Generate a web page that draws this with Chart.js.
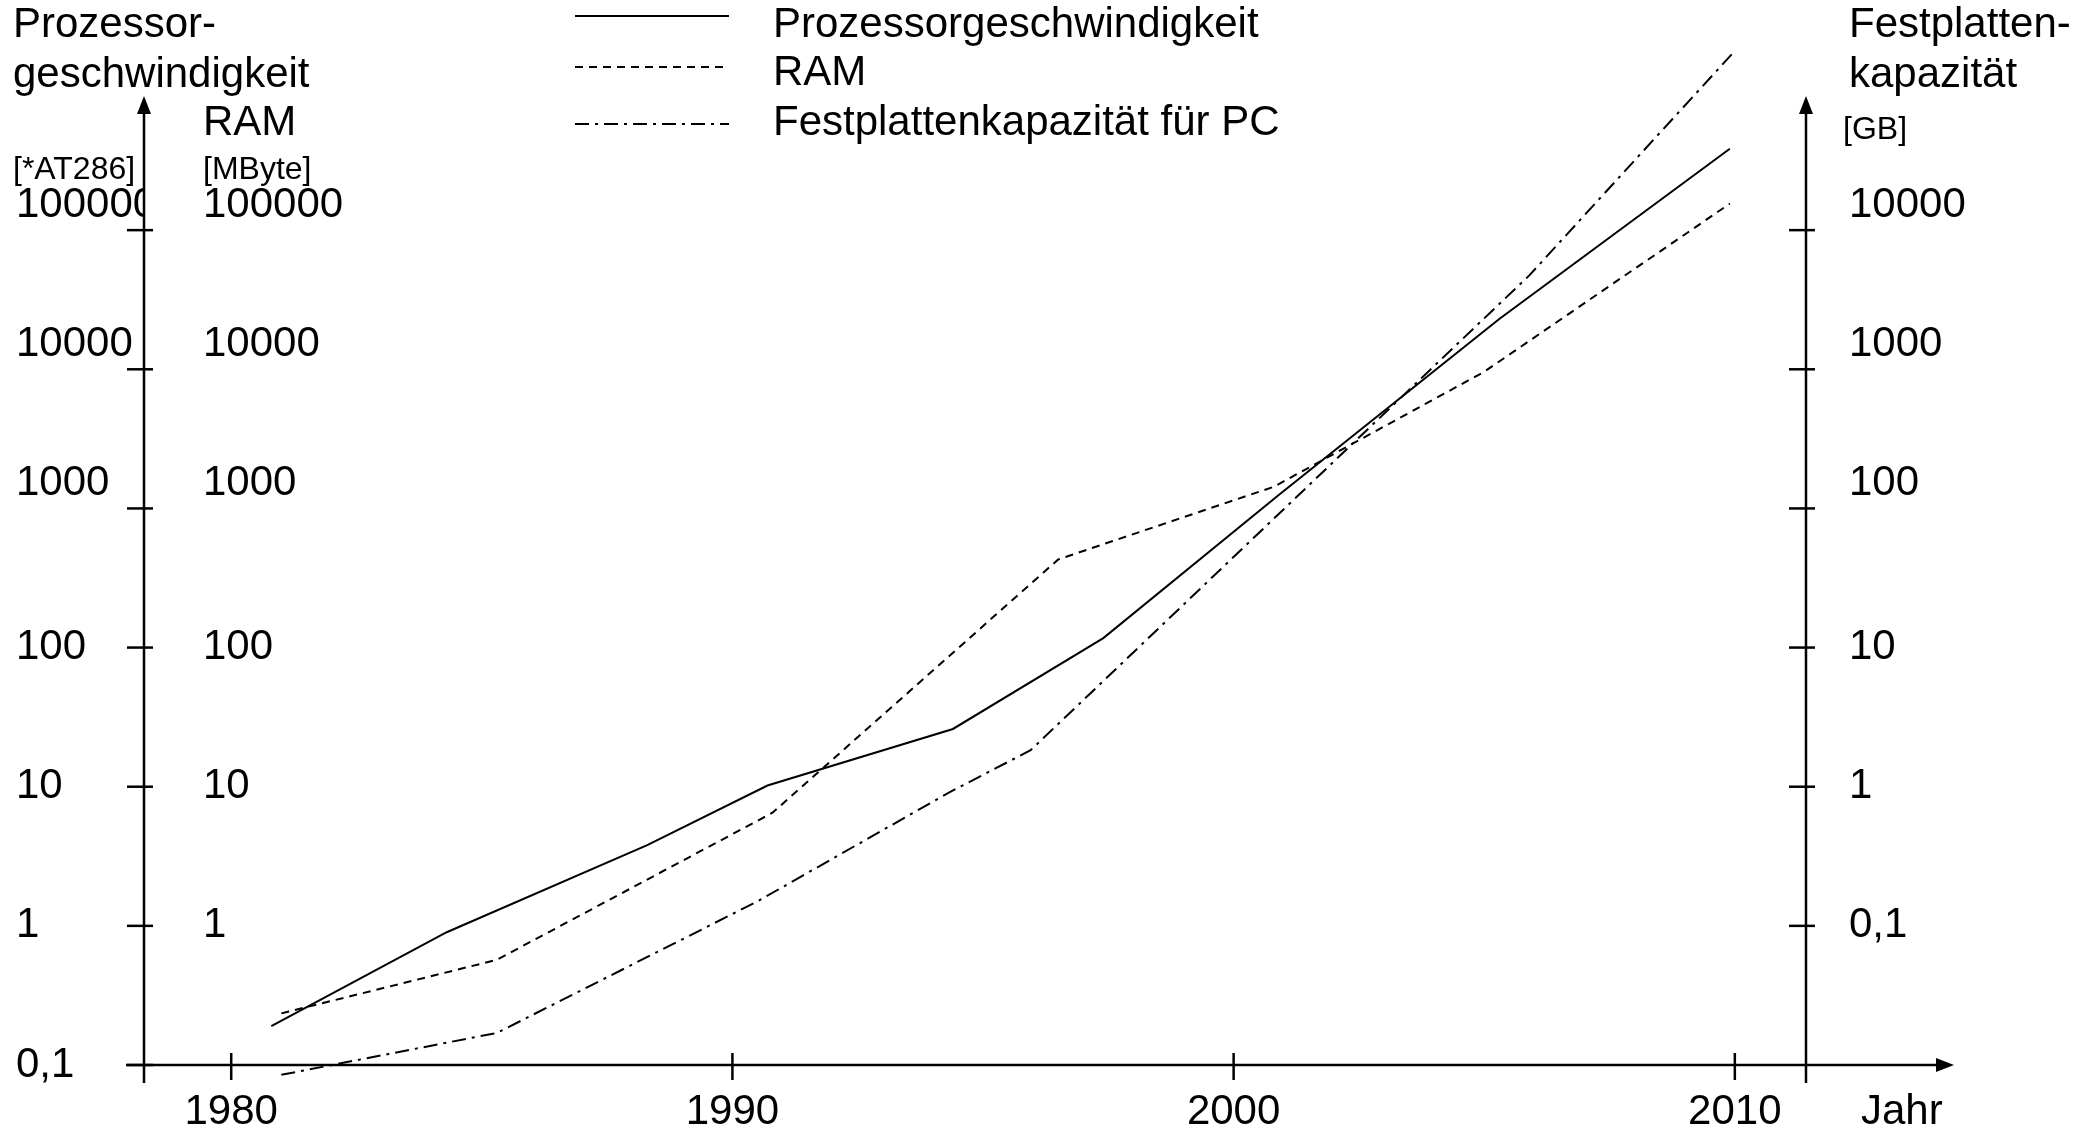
<!DOCTYPE html>
<html>
<head>
<meta charset="utf-8">
<script src="https://cdn.jsdelivr.net/npm/chart.js@4.4.1/dist/chart.umd.min.js"></script>
<style>
    html, body { margin: 0; padding: 0; background: #ffffff; }
    #wrap { width: 2096px; height: 1132px; }
</style>
</head>
<body>
<div id="wrap"><canvas id="chart"></canvas></div>
<script>
// values (x = year)
const procYears  = [1980.8, 1984.3, 1988.3, 1990.7, 1994.4, 1997.4, 2000.9, 2005.3, 2009.9];
const procValues = [0.19, 0.9, 3.8, 10.2, 26, 117, 1250, 23000, 385000];

const ramYears  = [1981.0, 1985.3, 1990.8, 1996.5, 2000.8, 2005.0, 2009.9];
const ramValues = [0.235, 0.57, 6.5, 430, 1430, 9600, 155000];

const hddYears  = [1981.0, 1985.3, 1990.5, 1994.3, 1995.95, 2005.9, 2010.0];
const hddValues = [0.0085, 0.017, 0.15, 0.9, 1.83, 4730, 194000];

const yearTicks  = [1980, 1990, 2000, 2010];
const leftTicks  = [0.1, 1, 10, 100, 1000, 10000, 100000];
const ramTicks   = [1, 10, 100, 1000, 10000, 100000];
const rightTicks = [0.1, 1, 10, 100, 1000, 10000];

const FONT = "'Liberation Sans', Arial, sans-serif";

function zip(xs, ys) {
    return xs.map((x, i) => ({ x: x, y: ys[i] }));
}

const fmt = v => String(v).replace('.', ',');

// labels of the upper decades sit a bit above their tick in the original
function raised(list) {
    return v => list.includes(v) ? [fmt(v), ''] : fmt(v);
}

function setTicks(list) {
    return s => { s.ticks = list.map(v => ({ value: v })); };
}

// fixed box size, and no extra room reserved for overhanging labels
function fixSize(key, size) {
    return s => {
        s[key] = size;
        s.paddingTop = 0;
        s.paddingBottom = 0;
        s.paddingLeft = 0;
        s.paddingRight = 0;
    };
}

function line(ctx, x1, y1, x2, y2) {
    ctx.beginPath();
    ctx.moveTo(x1, y1);
    ctx.lineTo(x2, y2);
    ctx.stroke();
}

const handAxes = {
    id: 'handAxes',
    afterDraw(chart) {
        const ctx = chart.ctx;
        const area = chart.chartArea;
        const xs = chart.scales.x;
        const tipY = area.top + 5;
        ctx.save();
        ctx.strokeStyle = '#000000';
        ctx.fillStyle = '#000000';
        ctx.lineWidth = 2.5;
        ctx.setLineDash([]);

        // both vertical axes with arrow and crossing ticks
        [[chart.scales.y, area.left, leftTicks], [chart.scales.yHdd, area.right, rightTicks]].forEach(([s, x, ticks]) => {
            line(ctx, x, area.bottom + 18, x, tipY + 12);
            ctx.beginPath();
            ctx.moveTo(x, tipY);
            ctx.lineTo(x - 7, tipY + 18);
            ctx.lineTo(x + 7, tipY + 18);
            ctx.closePath();
            ctx.fill();
            ticks.forEach(v => {
                const py = s.getPixelForValue(v);
                line(ctx, x - 17, py, x + 9, py);
            });
        });

        // time axis
        const xEnd = area.right + 148;
        line(ctx, area.left - 18, area.bottom, xEnd - 12, area.bottom);
        ctx.beginPath();
        ctx.moveTo(xEnd, area.bottom);
        ctx.lineTo(xEnd - 18, area.bottom - 7);
        ctx.lineTo(xEnd - 18, area.bottom + 7);
        ctx.closePath();
        ctx.fill();
        yearTicks.forEach(v => {
            const px = xs.getPixelForValue(v);
            line(ctx, px, area.bottom - 12, px, area.bottom + 15);
        });
        ctx.restore();
    }
};

const handLabels = {
    id: 'handLabels',
    afterDraw(chart) {
        const ctx = chart.ctx;
        ctx.save();
        ctx.fillStyle = '#000000';
        ctx.strokeStyle = '#000000';
        ctx.textBaseline = 'middle';
        ctx.textAlign = 'left';

        const titles = [
            ['Prozessor-', 13, 25, 42],
            ['geschwindigkeit', 13, 75, 42],
            ['RAM', 203, 123, 42],
            ['[*AT286]', 13, 170, 32],
            ['[MByte]', 203, 170, 32],
            ['Festplatten-', 1849, 25, 42],
            ['kapazität', 1849, 75, 42],
            ['[GB]', 1843, 130, 32],
            ['Jahr', 1861, 1112, 42]
        ];
        titles.forEach(([t, x, y, size]) => {
            ctx.font = size + 'px ' + FONT;
            ctx.fillText(t, x, y);
        });

        // legend, one row per dataset
        const rowY = [25, 73, 123];
        const lineY = [16, 67, 124];
        ctx.font = '42px ' + FONT;
        chart.data.datasets.forEach((ds, i) => {
            ctx.lineWidth = 2;
            ctx.setLineDash(ds.borderDash || []);
            line(ctx, 575, lineY[i], 729, lineY[i]);
            ctx.setLineDash([]);
            ctx.fillText(ds.label, 773, rowY[i]);
        });
        ctx.restore();
    }
};

const tickFont = { family: FONT, size: 42 };
const noGrid = { display: false, drawTicks: false };
const lineStyle = {
    borderColor: '#000000',
    backgroundColor: '#000000',
    borderWidth: 2,
    pointRadius: 0,
    fill: false,
    tension: 0,
    clip: false
};

new Chart(document.getElementById('chart'), {
    type: 'line',
    data: {
        datasets: [
            {
                ...lineStyle,
                label: 'Prozessorgeschwindigkeit',
                data: zip(procYears, procValues),
                yAxisID: 'y',
                borderDash: []
            },
            {
                ...lineStyle,
                label: 'RAM',
                data: zip(ramYears, ramValues),
                yAxisID: 'yRam',
                borderDash: [8, 6]
            },
            {
                ...lineStyle,
                label: 'Festplattenkapazität für PC',
                data: zip(hddYears, hddValues),
                yAxisID: 'yHdd',
                borderDash: [14, 6, 3, 6]
            }
        ]
    },
    options: {
        responsive: true,
        maintainAspectRatio: false,
        animation: false,
        layout: { padding: { left: 16, top: 91, right: 0, bottom: 0 } },
        plugins: {
            legend: { display: false },
            tooltip: { enabled: false },
            colors: { enabled: false }
        },
        scales: {
            x: {
                type: 'linear',
                position: 'bottom',
                min: 1978.26,
                max: 2011.42,
                afterBuildTicks: setTicks(yearTicks),
                afterFit: fixSize('height', 67),
                grid: noGrid,
                border: { display: false },
                ticks: {
                    font: tickFont, color: '#000000', padding: 22,
                    autoSkip: false, maxRotation: 0,
                    callback: v => String(v)
                }
            },
            y: {
                type: 'logarithmic',
                position: 'left',
                weight: 2,
                min: 0.1,
                max: 1e6,
                afterBuildTicks: setTicks(leftTicks),
                afterFit: fixSize('width', 128),
                grid: noGrid,
                border: { display: false },
                ticks: {
                    font: tickFont, color: '#000000', padding: 0,
                    crossAlign: 'far', autoSkip: false,
                    callback: raised([1000, 10000, 100000])
                }
            },
            yRam: {
                type: 'logarithmic',
                position: 'left',
                weight: 1,
                min: 0.1,
                max: 1e6,
                afterBuildTicks: setTicks(ramTicks),
                afterFit: fixSize('width', 0),
                grid: noGrid,
                border: { display: false },
                ticks: {
                    font: tickFont, color: '#000000', padding: 59,
                    mirror: true, crossAlign: 'near', autoSkip: false,
                    callback: raised([1000, 10000, 100000])
                }
            },
            yHdd: {
                type: 'logarithmic',
                position: 'right',
                min: 0.01,
                max: 1e5,
                afterBuildTicks: setTicks(rightTicks),
                afterFit: fixSize('width', 290),
                grid: noGrid,
                border: { display: false },
                ticks: {
                    font: tickFont, color: '#000000', padding: 43,
                    crossAlign: 'near', autoSkip: false,
                    callback: raised([100, 1000, 10000])
                }
            }
        }
    },
    plugins: [handAxes, handLabels]
});
</script>
</body>
</html>
